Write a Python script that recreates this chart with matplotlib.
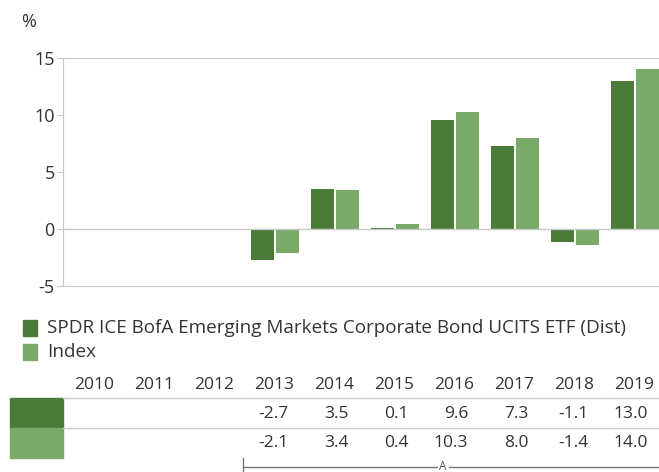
import numpy as np
import matplotlib.pyplot as plt
from matplotlib.patches import Rectangle
from matplotlib.lines import Line2D
from matplotlib.transforms import blended_transform_factory

plt.rcParams['font.family'] = ['Open Sans', 'DejaVu Sans']
plt.rcParams['axes.unicode_minus'] = False

years = ['2010', '2011', '2012', '2013', '2014', '2015', '2016', '2017', '2018', '2019']
fund = [np.nan, np.nan, np.nan, -2.7, 3.5, 0.1, 9.6, 7.3, -1.1, 13.0]
index = [np.nan, np.nan, np.nan, -2.1, 3.4, 0.4, 10.3, 8.0, -1.4, 14.0]
fund_name = 'SPDR ICE BofA Emerging Markets Corporate Bond UCITS ETF (Dist)'
index_name = 'Index'

dark = '#4a7b39'
light = '#7aaa69'
grey = '#c8c8c8'
txt = '#333333'

W, H = 659, 472
fig = plt.figure(figsize=(W / 100, H / 100), dpi=100)

def fx(px):
    return px / W

def fy(py):
    return 1 - py / H

ax = fig.add_axes([fx(63), fy(286), fx(665) - fx(63), fy(58) - fy(286)])
x = np.arange(len(years))
ax.bar(x - 0.205, fund, width=0.38, color=dark)
ax.bar(x + 0.205, index, width=0.38, color=light)
ax.set_xlim(-0.533, 9.5)
ax.set_ylim(-5, 15)
ax.set_yticks([-5, 0, 5, 10, 15])
ax.set_xticks([])
ax.axhline(0, color=grey, lw=1)
for s in ['left', 'top', 'bottom']:
    ax.spines[s].set_color(grey)
ax.spines['right'].set_visible(False)
ax.tick_params(axis='y', colors=grey, labelcolor=txt, labelsize=13, length=4, pad=2)
fig.text(fx(21), fy(22), '%', fontsize=13, color=txt, va='center')

# legend
for i, (c, lab) in enumerate([(dark, fund_name), (light, index_name)]):
    yc = 328 + 24 * i
    fig.patches.append(Rectangle((fx(23), fy(yc + 8)), fx(14), fy(yc - 8) - fy(yc + 8),
                                 transform=fig.transFigure, color=c))
    fig.text(fx(47), fy(yc), lab, fontsize=13.6, color=txt, va='center')

# table below
tr = blended_transform_factory(ax.transData, fig.transFigure)
for i, yr in enumerate(years):
    fig.text(i + 0.32, fy(385), yr, transform=tr, ha='right', va='center', fontsize=12.5, color=txt)
    if not np.isnan(fund[i]):
        fig.text(i + 0.22, fy(414), f'{fund[i]:.1f}', transform=tr, ha='right', va='center',
                 fontsize=12.5, color=txt)
        fig.text(i + 0.22, fy(443), f'{index[i]:.1f}', transform=tr, ha='right', va='center',
                 fontsize=12.5, color=txt)
for c, top in [(dark, 398), (light, 428)]:
    fig.patches.append(Rectangle((fx(10), fy(top + 30)), fx(53), fy(top) - fy(top + 30),
                                 transform=fig.transFigure, color=c))
for yl in [398, 428]:
    fig.lines.append(Line2D([fx(63), 1], [fy(yl), fy(yl)], transform=fig.transFigure,
                            color=grey, lw=1))

# bracket
fig.lines.append(Line2D([fx(243), fx(243)], [fy(458), 0], transform=fig.transFigure,
                        color='#777777', lw=1))
fig.lines.append(Line2D([fx(243), fx(437)], [fy(467), fy(467)], transform=fig.transFigure,
                        color='#777777', lw=1))
fig.lines.append(Line2D([fx(449), 1], [fy(467), fy(467)], transform=fig.transFigure,
                        color='#777777', lw=1))
fig.text(fx(443), fy(466), 'A', ha='center', va='center', fontsize=8.5, color='#555555')

fig.savefig('out.png', dpi=100)
